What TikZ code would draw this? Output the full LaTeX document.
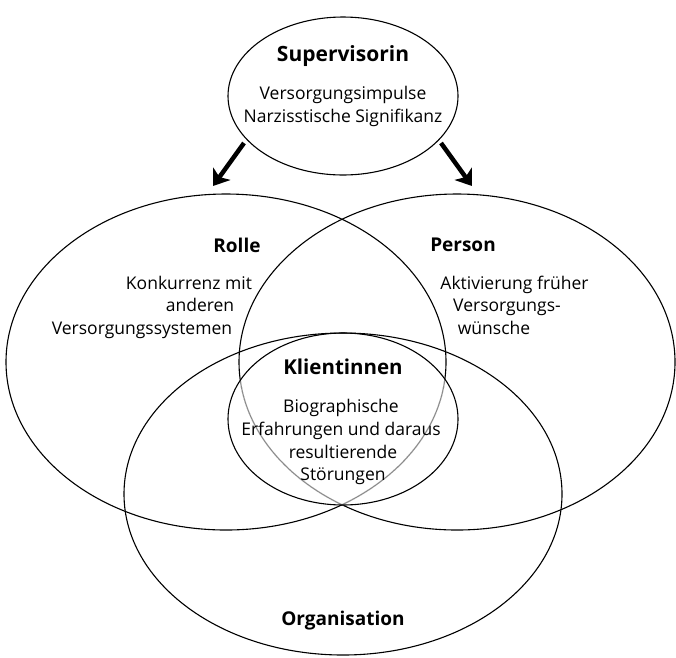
\documentclass[tikz,border=0pt]{standalone}
\usepackage{fontspec}
\setmainfont{Open Sans}
\usetikzlibrary{arrows.meta}
\definecolor{grauLinie}{RGB}{140,140,140}
\tikzset{
	kreis/.style={line width=1.1pt},
	titel/.style={font=\fontsize{19}{22}\selectfont\bfseries, inner sep=0pt},
	grosstitel/.style={font=\fontsize{21}{25}\selectfont\bfseries, inner sep=0pt},
	zeile/.style={font=\fontsize{17.5}{22}\selectfont, inner sep=0pt},
	pfeil/.style={line width=4.5pt, -{Stealth[length=15pt, width=21pt, inset=4pt]}}
}

\begin{document}
\begin{tikzpicture}[x=1pt, y=-1pt, text depth=0pt]
	\useasboundingbox (0,0) rectangle (676,657);

	% ellipses
	\draw[kreis] (343,96) ellipse [x radius=115, y radius=79];
	\draw[kreis] (226,362) ellipse [x radius=220, y radius=168];
	\draw[kreis] (457,362) ellipse [x radius=218, y radius=168];
	\draw[kreis] (343,494) ellipse [x radius=219, y radius=161];

	% inner parts of rolle/person in grey
	\begin{scope}
		\clip (343,419) ellipse [x radius=115, y radius=86];
		\draw[kreis, white, line width=2pt] (226,362) ellipse [x radius=220, y radius=168];
		\draw[kreis, white, line width=2pt] (457,362) ellipse [x radius=218, y radius=168];
		\draw[kreis, grauLinie] (226,362) ellipse [x radius=220, y radius=168];
		\draw[kreis, grauLinie] (457,362) ellipse [x radius=218, y radius=168];
	\end{scope}
	\draw[kreis] (343,419) ellipse [x radius=115, y radius=86];

	% arrows
	\coordinate (pfLa) at (244,143);
	\coordinate (pfLb) at (213,186);
	\coordinate (pfRa) at (441,143);
	\coordinate (pfRb) at (472,186);
	\draw[pfeil] (pfLa) -- (pfLb);
	\draw[pfeil] (pfRa) -- (pfRb);

	% supervisorin
	\node[grosstitel] (sup) at (343,54) {Supervisorin};
	\node[zeile] (sup1) at (343,93) {Versorgungsimpulse};
	\node[zeile] (sup2) at (343,115.5) {Narzisstische Signifikanz};

	% rolle
	\node[titel] (rolle) at (237,245) {Rolle};
	\node[zeile] (rolle1) at (189,283) {Konkurrenz mit};
	\node[zeile] (rolle2) at (200,305) {anderen};
	\node[zeile] (rolle3) at (142,328) {Versorgungssystemen};

	% person
	\node[titel] (person) at (463,245) {Person};
	\node[zeile] (person1) at (514.5,283) {Aktivierung früher};
	\node[zeile] (person2) at (507,305) {Versorgungs-};
	\node[zeile] (person3) at (494,328) {wünsche};

	% klientinnen
	\node[grosstitel, font=\fontsize{20.5}{24}\selectfont\bfseries] (klient) at (343,367) {Klientinnen};
	\node[zeile] (klient1) at (341,406) {Biographische};
	\node[zeile] (klient2) at (341,429) {Erfahrungen und daraus};
	\node[zeile] (klient3) at (343,452) {resultierende};
	\node[zeile] (klient4) at (343,474) {Störungen};

	% organisation
	\node[titel] (orga) at (343,618.5) {Organisation};
\end{tikzpicture}
\end{document}
